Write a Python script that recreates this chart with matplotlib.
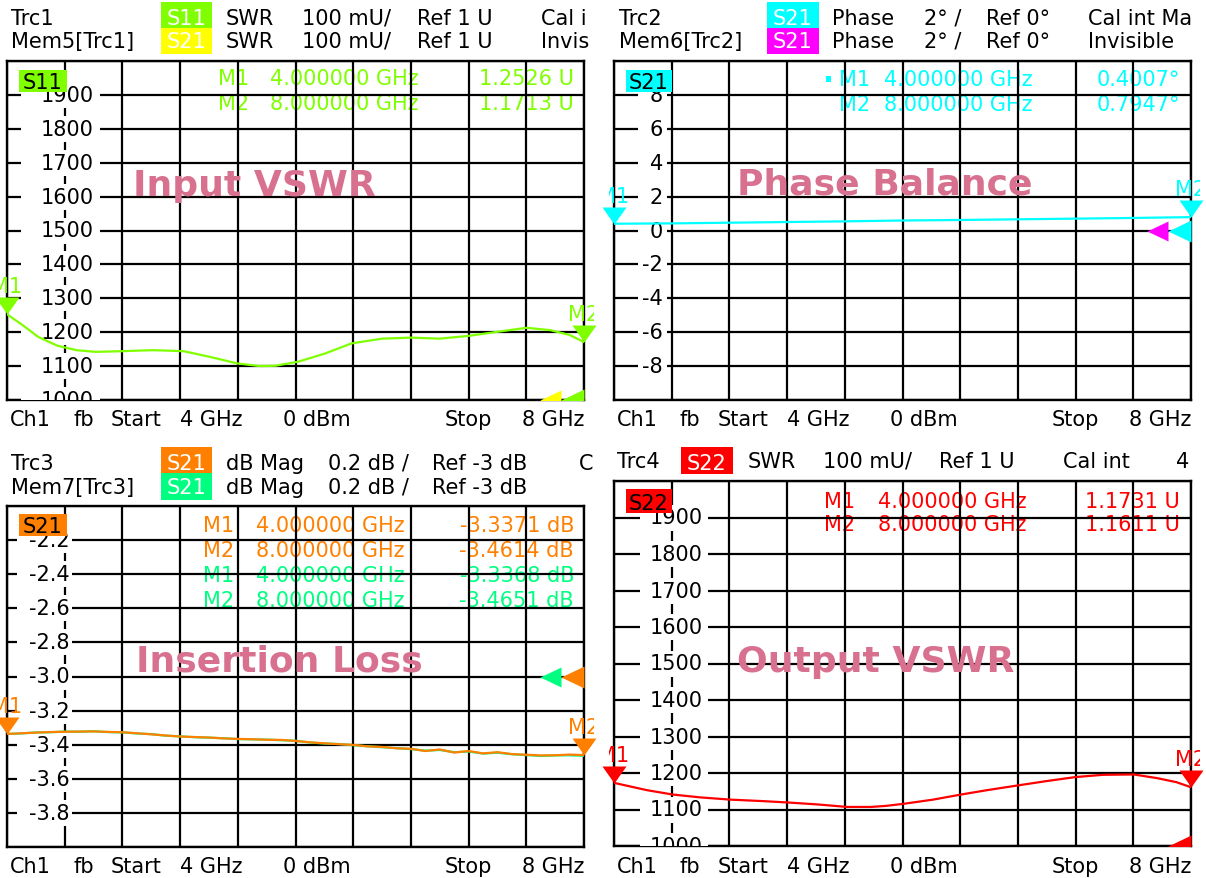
import numpy as np
import matplotlib
matplotlib.use("Agg")
import matplotlib.pyplot as plt
from matplotlib.patches import Rectangle
from matplotlib.transforms import Bbox, Affine2D, ScaledTranslation, blended_transform_factory

# ---------------- data ----------------
# Trc1  S11 SWR (axis labels shown as 1000..1900)
s11_freq = [4.0, 4.111, 4.217, 4.350, 4.482, 4.615, 4.800, 5.012, 5.224, 5.409, 5.595,
            5.754, 5.860, 6.019, 6.204, 6.389, 6.601, 6.800, 6.999, 7.197, 7.396, 7.603,
            7.767, 7.899, 8.0]
s11_swr = [1253, 1220, 1186, 1160, 1147, 1142, 1144, 1147, 1144, 1127, 1108,
           1100, 1101, 1113, 1137, 1167, 1181, 1184, 1181, 1189, 1201, 1213,
           1206, 1192, 1171]

# Trc2  S21 phase balance (deg)
ph_freq = [4.0, 4.4, 4.8, 5.2, 5.6, 6.0, 6.4, 6.8, 7.2, 7.6, 8.0]
ph_deg = [0.40, 0.42, 0.46, 0.50, 0.54, 0.59, 0.62, 0.66, 0.70, 0.74, 0.79]

# Trc3 / Mem7  S21 insertion loss (dB)
il_freq = np.linspace(4.0, 8.0, 41)
il_trc3 = [-3.337, -3.333, -3.329, -3.326, -3.324, -3.323, -3.322, -3.325, -3.327, -3.333,
           -3.339, -3.346, -3.352, -3.355, -3.358, -3.363, -3.366, -3.368, -3.371, -3.372,
           -3.378, -3.386, -3.392, -3.397, -3.401, -3.410, -3.413, -3.421, -3.424, -3.437,
           -3.428, -3.446, -3.437, -3.451, -3.444, -3.455, -3.459, -3.463, -3.462, -3.458,
           -3.461]
il_mem7 = [-3.337, -3.334, -3.328, -3.327, -3.323, -3.324, -3.321, -3.326, -3.328, -3.334,
           -3.338, -3.347, -3.351, -3.356, -3.359, -3.362, -3.367, -3.369, -3.370, -3.374,
           -3.377, -3.387, -3.393, -3.396, -3.403, -3.409, -3.415, -3.420, -3.426, -3.435,
           -3.431, -3.444, -3.440, -3.452, -3.447, -3.456, -3.461, -3.466, -3.463, -3.462,
           -3.465]

# Trc4  S22 SWR
s22_freq = [4.0, 4.228, 4.407, 4.603, 4.809, 5.031, 5.214, 5.407, 5.616, 5.782, 5.889,
            6.015, 6.211, 6.406, 6.586, 6.800, 7.001, 7.202, 7.389, 7.603, 7.764, 7.898, 8.0]
s22_swr = [1173, 1153, 1141, 1133, 1127, 1123, 1119, 1114, 1107, 1107, 1110,
           1116, 1127, 1141, 1153, 1166, 1178, 1189, 1195, 1196, 1186, 1175, 1161]

swr_ticks = [1900, 1800, 1700, 1600, 1500, 1400, 1300, 1200, 1100, 1000]
swr_labels = ["1900", "1800", "1700", "1600", "1500", "1400", "1300", "1200", "1100", "1000"]
ph_ticks = [8, 6, 4, 2, 0, -2, -4, -6, -8]
ph_labels = ["8", "6", "4", "2", "0", "-2", "-4", "-6", "-8"]
il_ticks = [-2.2, -2.4, -2.6, -2.8, -3.0, -3.2, -3.4, -3.6, -3.8]
il_labels = ["-2.2", "-2.4", "-2.6", "-2.8", "-3.0", "-3.2", "-3.4", "-3.6", "-3.8"]

tl_readout = [("M1", "4.000000 GHz", "1.2526 U"), ("M2", "8.000000 GHz", "1.1713 U")]
tr_readout = [("M1", "4.000000 GHz", "0.4007°"), ("M2", "8.000000 GHz", "0.7947°")]
bl_readout = [("M1", "4.000000 GHz", "-3.3371 dB"), ("M2", "8.000000 GHz", "-3.4614 dB"),
              ("M1", "4.000000 GHz", "-3.3368 dB"), ("M2", "8.000000 GHz", "-3.4651 dB")]
br_readout = [("M1", "4.000000 GHz", "1.1731 U"), ("M2", "8.000000 GHz", "1.1611 U")]

GREEN = "#80ff00"
YELLOW = "#ffff00"
CYAN = "#00ffff"
MAGENTA = "#ff00ff"
ORANGE = "#ff8000"
SPRING = "#00ff80"
RED = "#ff0000"
PINK = "#d8708f"

# ---------------- figure ----------------
W, H = 1206, 879
plt.rcParams['font.family'] = ['DejaVu Sans']
fig = plt.figure(figsize=(W / 100, H / 100), dpi=100, facecolor='white')
FS = 15
PX = Affine2D().scale(1, -1).translate(0, H)   # image pixel coords -> display

QUADS = {'TL': (0, 0, 594, 441), 'TR': (609, 0, 1200, 441),
         'BL': (0, 441, 594, 879), 'BR': (609, 441, 1200, 879)}


def qbox(q):
    x0, y0, x1, y1 = QUADS[q]
    return Bbox([[x0, H - y1], [x1, H - y0]])


def ftext(q, x, y, s, color='black', ha='left', size=FS, weight='normal',
          transform=None, z=10):
    t = fig.text(x, y, s, transform=PX if transform is None else transform,
                 color=color, ha=ha, va='baseline', fontsize=size,
                 fontweight=weight, zorder=z)
    t.set_clip_box(qbox(q))
    t.set_clip_on(True)
    return t


def fbox(x0, y0, x1, y1, color, z=9):
    fig.add_artist(Rectangle((x0, y0), x1 - x0, y1 - y0, transform=PX,
                             facecolor=color, edgecolor='none', zorder=z))


def make_ax(box, ylim, ticks, labels, lab_ha, lab_x, white):
    x0, y0, x1, y1 = box
    ax = fig.add_axes([x0 / W, 1 - y1 / H, (x1 - x0) / W, (y1 - y0) / H])
    ax.set_facecolor('white')
    ax.set_xlim(4, 8)
    ax.set_ylim(*ylim)
    ax.set_xticks(np.linspace(4, 8, 11))
    ax.set_yticks(np.linspace(ylim[0], ylim[1], 11))
    ax.tick_params(length=0, labelbottom=False, labelleft=False)
    ax.grid(True, color='black', lw=1.6)
    ax.set_axisbelow(False)
    for s in ax.spines.values():
        s.set_linewidth(1.7)
        s.set_color('black')
    upp = (ylim[1] - ylim[0]) / (y1 - y0)
    bt = blended_transform_factory(Affine2D(), ax.transData)
    for v, lab in zip(ticks, labels):
        ax.add_patch(Rectangle((white[0], v - 13 * upp), white[1] - white[0], 26 * upp,
                               transform=bt, facecolor='white', edgecolor='none',
                               zorder=3.4, clip_on=True))
        ax.text(lab_x, v, lab, transform=bt, ha=lab_ha, va='center', fontsize=FS,
                color='black', zorder=3.5, clip_on=True)
    return ax


def down_marker(ax, q, f, v, color, name):
    verts = [(-12, 17), (12, 17), (0, 0), (-12, 17)]
    ax.plot([f], [v], ls='none', marker=verts, ms=2 * 17 * 0.72, color=color,
            mew=0, clip_on=False, zorder=7)
    off = ax.transData + ScaledTranslation(0, 0.22, fig.dpi_scale_trans)
    ftext(q, f, v, name, color=color, ha='center', transform=off, z=11)


def ref_marker(ax, v, color, slot):
    if slot == 0:
        verts = [(0, 11), (0, -11), (-23, 0), (0, 11)]
        m = 23
    else:
        verts = [(-23, 10), (-23, -10), (-44, 0), (-23, 10)]
        m = 44
    ax.plot([8], [v], ls='none', marker=verts, ms=2 * m * 0.72, color=color,
            mew=0, clip_on=True, zorder=6)


def readouts(ax, rows, colors, base, xs):
    for i, (r, c) in enumerate(zip(rows, colors)):
        y = base[i]
        ax.text(xs[0], y, r[0], transform=PX, color=c, fontsize=FS, va='baseline', zorder=1)
        ax.text(xs[1], y, r[1], transform=PX, color=c, fontsize=FS, va='baseline', zorder=1)
        ax.text(xs[2], y, r[2], transform=PX, color=c, fontsize=FS, va='baseline',
                ha='right', zorder=1)


def header(q, rows):
    for base, toks in rows:
        for s, x in toks:
            ftext(q, x, base, s)


def footer(q, base, left):
    toks = [("Ch1", 3), ("fb", 66), ("Start", 104), ("4 GHz", 173), ("0 dBm", 276), ("Stop", 438)]
    for s, dx in toks:
        ftext(q, left + dx, base, s)
    ftext(q, left + 577, base, "8 GHz", ha='right')


# ---------- Top-left: Input VSWR ----------
ax1 = make_ax((7, 62, 584, 401), (1000, 2000), swr_ticks, swr_labels, 'center', 67, (21, 100))
ax1.plot(s11_freq, s11_swr, color=GREEN, lw=1.6, zorder=4)
ref_marker(ax1, 1000, GREEN, 0)
ref_marker(ax1, 1000, YELLOW, 1)
down_marker(ax1, 'TL', s11_freq[0], s11_swr[0], GREEN, "M1")
down_marker(ax1, 'TL', s11_freq[-1], s11_swr[-1], GREEN, "M2")
readouts(ax1, tl_readout, [GREEN, GREEN], [85, 110], [218, 270, 574])
ax1.text(133, 196, "Input VSWR", transform=PX, color=PINK, fontsize=26,
         fontweight='bold', zorder=3.6)
fbox(19, 71, 67, 93, GREEN)
ftext('TL', 43, 89, "S11", ha='center', z=12)
fbox(161, 3, 212, 29, GREEN)
fbox(161, 29, 212, 55, YELLOW)
ftext('TL', 186.5, 25, "S11", color='white', ha='center', z=12)
ftext('TL', 186.5, 48, "S21", color='white', ha='center', z=12)
header('TL', [(25, [("Trc1", 11), ("SWR", 226), ("100 mU/", 302), ("Ref 1 U", 417), ("Cal i", 541)]),
              (48, [("Mem5[Trc1]", 11), ("SWR", 226), ("100 mU/", 302), ("Ref 1 U", 417), ("Invis", 541)])])
footer('TL', 426, 7)

# ---------- Top-right: Phase Balance ----------
ax2 = make_ax((614, 62, 1191, 401), (-10, 10), ph_ticks, ph_labels, 'right', 663, (638, 667))
ax2.plot(ph_freq, ph_deg, color=CYAN, lw=1.6, zorder=4)
ref_marker(ax2, 0, CYAN, 0)
ref_marker(ax2, 0, MAGENTA, 1)
down_marker(ax2, 'TR', ph_freq[0], ph_deg[0], CYAN, "M1")
down_marker(ax2, 'TR', ph_freq[-1], ph_deg[-1], CYAN, "M2")
readouts(ax2, tr_readout, [CYAN, CYAN], [86, 111], [839, 884, 1180])
ax2.add_patch(Rectangle((826, 77), 5, 6, transform=PX, facecolor=CYAN, edgecolor='none', zorder=1))
ax2.text(737, 195, "Phase Balance", transform=PX, color=PINK, fontsize=26,
         fontweight='bold', zorder=3.6)
fbox(626, 71, 672, 93, CYAN)
ftext('TR', 649, 89, "S21", ha='center', z=12)
fbox(767, 3, 819, 29, CYAN)
fbox(767, 29, 819, 55, MAGENTA)
ftext('TR', 793, 25, "S21", color='white', ha='center', z=12)
ftext('TR', 793, 48, "S21", color='white', ha='center', z=12)
header('TR', [(25, [("Trc2", 619), ("Phase", 832), ("2° /", 924), ("Ref 0°", 986), ("Cal int Ma", 1088)]),
              (48, [("Mem6[Trc2]", 619), ("Phase", 832), ("2° /", 924), ("Ref 0°", 986), ("Invisible", 1088)])])
footer('TR', 426, 614)

# ---------- Bottom-left: Insertion Loss ----------
ax3 = make_ax((7, 507, 584, 848), (-4.0, -2.0), il_ticks, il_labels, 'right', 70, (17, 72))
ax3.plot(il_freq, il_mem7, color=SPRING, lw=1.6, zorder=4)
ax3.plot(il_freq, il_trc3, color=ORANGE, lw=1.6, zorder=4.1)
ref_marker(ax3, -3.0, ORANGE, 0)
ref_marker(ax3, -3.0, SPRING, 1)
down_marker(ax3, 'BL', il_freq[0], il_trc3[0], ORANGE, "M1")
down_marker(ax3, 'BL', il_freq[-1], il_trc3[-1], ORANGE, "M2")
readouts(ax3, bl_readout, [ORANGE, ORANGE, SPRING, SPRING], [532, 557, 582, 607], [203, 256, 574])
ax3.text(136, 672, "Insertion Loss", transform=PX, color=PINK, fontsize=26,
         fontweight='bold', zorder=3.6)
fbox(19, 515, 67, 537, ORANGE)
ftext('BL', 43, 533, "S21", ha='center', z=12)
fbox(161, 448, 212, 474, ORANGE)
fbox(161, 474, 212, 501, SPRING)
ftext('BL', 186.5, 470, "S21", color='white', ha='center', z=12)
ftext('BL', 186.5, 494, "S21", color='white', ha='center', z=12)
header('BL', [(470, [("Trc3", 11), ("dB Mag", 226), ("0.2 dB /", 328), ("Ref -3 dB", 432), ("C", 579)]),
              (494, [("Mem7[Trc3]", 11), ("dB Mag", 226), ("0.2 dB /", 328), ("Ref -3 dB", 432)])])
footer('BL', 873, 7)

# ---------- Bottom-right: Output VSWR ----------
ax4 = make_ax((614, 482, 1191, 847), (1000, 2000), swr_ticks, swr_labels, 'center', 676, (640, 708))
ax4.plot(s22_freq, s22_swr, color=RED, lw=1.6, zorder=4)
ref_marker(ax4, 1000, RED, 0)
down_marker(ax4, 'BR', s22_freq[0], s22_swr[0], RED, "M1")
down_marker(ax4, 'BR', s22_freq[-1], s22_swr[-1], RED, "M2")
readouts(ax4, br_readout, [RED, RED], [508, 531], [824, 878, 1180])
ax4.text(737, 672, "Output VSWR", transform=PX, color=PINK, fontsize=26,
         fontweight='bold', zorder=3.6)
fbox(626, 490, 672, 514, RED)
ftext('BR', 649, 510, "S22", ha='center', z=12)
fbox(681, 448, 733, 475, RED)
ftext('BR', 707, 470, "S22", color='white', ha='center', z=12)
header('BR', [(468, [("Trc4", 617), ("SWR", 748), ("100 mU/", 823), ("Ref 1 U", 939), ("Cal int", 1063), ("4", 1176)])])
footer('BR', 873, 614)

fig.savefig("out.png", dpi=100, facecolor='white')
